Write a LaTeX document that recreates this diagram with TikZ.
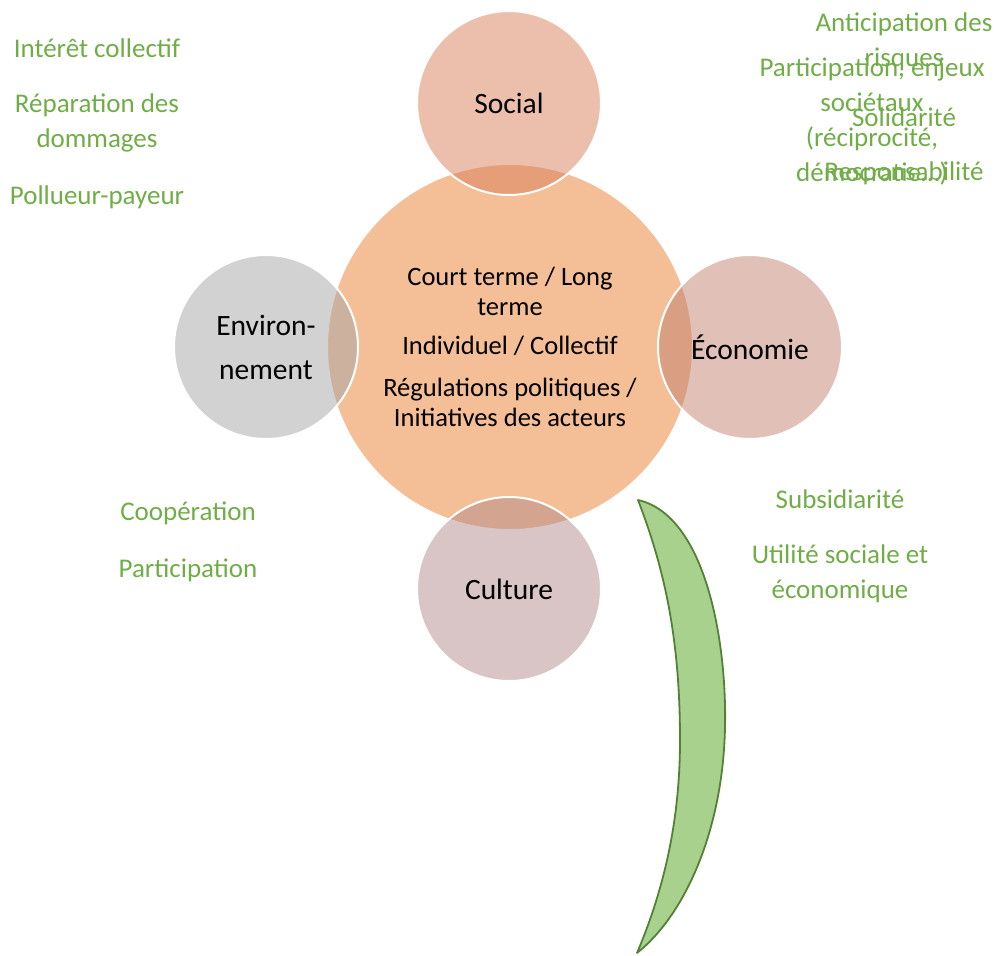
\documentclass[tikz,border=0pt]{standalone}
\usepackage{fontspec}
\setmainfont{Carlito}
\definecolor{mainfill}{HTML}{F4BE96}
\definecolor{socfill}{HTML}{D9805C}
\definecolor{envfill}{HTML}{A6A6A6}
\definecolor{ecofill}{HTML}{C28270}
\definecolor{culfill}{HTML}{B48C8C}
\definecolor{gtext}{HTML}{70AD47}
\definecolor{leaffill}{HTML}{A9D18E}
\definecolor{leafline}{HTML}{538135}
\tikzset{
  hub/.style={circle, draw=white, line width=2pt, fill=mainfill, minimum size=366pt, inner sep=0pt, align=center, font=\fontsize{26.5}{30}\selectfont},
  sat/.style={circle, draw=white, line width=2pt, fill opacity=0.5, text opacity=1, minimum size=184pt, inner sep=0pt, align=center, font=\fontsize{29.5}{30}\selectfont},
  gnote/.style={text=gtext, align=center, inner sep=0pt, font=\fontsize{27}{35}\selectfont},
  leaf/.style={fill=leaffill, draw=leafline, line width=1.8pt, line join=round}
}
\begin{document}
\begin{tikzpicture}[x=1pt,y=-1pt]
\useasboundingbox (0,0) rectangle (997,956);
\node[hub] (main) at (510,347) {Court terme / Long\\terme\\[9pt]Individuel / Collectif\\[12pt]Régulations politiques /\\Initiatives des acteurs};
\node[sat, fill=socfill] (social) at (509,103) {Social};
\node[sat, fill=envfill] (env) at (266,347) {Environ-\\[14pt]nement};
\node[sat, fill=ecofill] (eco) at (750,347) {Économie};
\node[sat, fill=culfill] (cult) at (509,589) {Culture};

\node[gnote] (interet) at (97,48) {Intérêt collectif};
\node[gnote] (repar) at (97,123) {Réparation des\\dommages};
\node[gnote] (pollu) at (97,197) {Pollueur-payeur};

\node[gnote] (antic) at (904,42) {Anticipation des\\risques};
\node[gnote] (partic) at (872,122) {Participation, enjeux\\sociétaux\\(réciprocité,\\démocratie…)};
\node[gnote] (solid) at (904,117) {Solidarité};
\node[gnote] (resp) at (904,173) {Responsabilité};

\node[gnote] (coop) at (188,513) {Coopération};
\node[gnote] (partic2) at (188,570) {Participation};

\node[gnote] (subsid) at (840,499) {Subsidiarité};
\node[gnote] (util) at (840,574) {Utilité sociale et\\économique};

\coordinate (ltop) at (638,500);
\coordinate (lout) at (725,727);
\coordinate (lbot) at (637,953);
\coordinate (lin) at (680,740);
\draw[leaf] (ltop) .. controls (705,515) and (727,640) .. (lout)
  .. controls (723,830) and (685,915) .. (lbot)
  .. controls (668,880) and (680,810) .. (lin)
  .. controls (680,640) and (665,570) .. (ltop) -- cycle;
\end{tikzpicture}
\end{document}
